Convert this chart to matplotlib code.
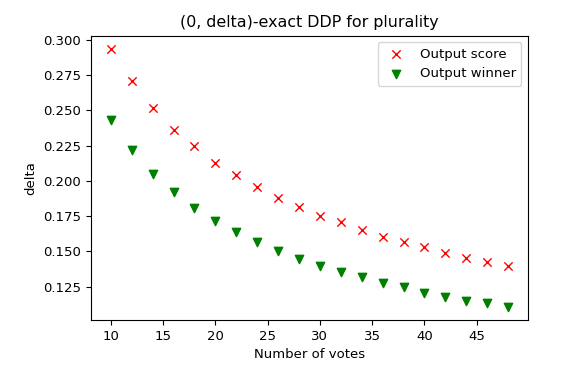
import matplotlib
matplotlib.use("Agg")
import matplotlib.pyplot as plt

votes = [10, 12, 14, 16, 18, 20, 22, 24, 26, 28, 30, 32, 34, 36, 38, 40, 42, 44, 46, 48]
score_delta = [0.2938, 0.2710, 0.2521, 0.2364, 0.2245, 0.2131, 0.2041, 0.1958, 0.1882, 0.1818,
               0.1751, 0.1706, 0.1651, 0.1604, 0.1566, 0.1530, 0.1492, 0.1457, 0.1426, 0.1400]
winner_delta = [0.2432, 0.2219, 0.2053, 0.1920, 0.1808, 0.1718, 0.1635, 0.1568, 0.1504, 0.1447,
                0.1400, 0.1357, 0.1319, 0.1279, 0.1246, 0.1205, 0.1179, 0.1148, 0.1132, 0.1105]

plt.rcParams['font.size'] = 9.5
fig = plt.figure(figsize=(5.72, 3.77), dpi=100)
ax = fig.add_axes([0.159, 0.151, 0.764, 0.754])
ax.scatter(votes, score_delta, marker='x', color='red', s=36, linewidths=1.0, label='Output score')
ax.scatter(votes, winner_delta, marker='v', color='green', s=36, label='Output winner')
ax.set_title('(0, delta)-exact DDP for plurality', fontsize=11.4)
ax.set_xlabel('Number of votes')
ax.set_ylabel('delta')
ax.set_xticks([10, 15, 20, 25, 30, 35, 40, 45])
ax.set_yticks([0.125, 0.150, 0.175, 0.200, 0.225, 0.250, 0.275, 0.300])
ax.set_yticklabels(['0.125', '0.150', '0.175', '0.200', '0.225', '0.250', '0.275', '0.300'])
ax.legend(loc='upper right', scatterpoints=1)
fig.savefig('out.png', dpi=100)
